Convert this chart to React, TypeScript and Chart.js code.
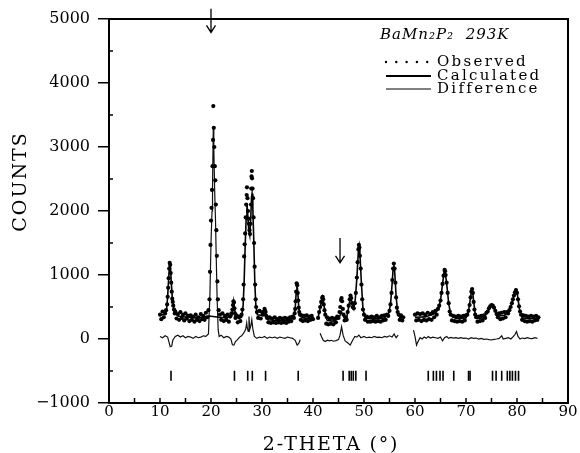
import React, { useEffect, useRef } from "react";
import { Chart, registerables } from "chart.js";

Chart.register(...registerables);

const FONT = "'DejaVu Serif', serif";

// x axis (2-theta, degrees) and y axis (counts) tick ranges
const xRange = [0, 90];
const yRange = [-1000, 5000];
const xStep = 10;
const yStep = 1000;

const xTitle = "2-THETA (°)";
const yTitle = "COUNTS";
const legendTitle = "BaMn₂P₂  293K";
const legendLabels = ["Observed", "Calculated", "Difference"];

// Observed counts [2θ, counts]
const observed: [number, number][] = [
  [10.0, 380], [10.25, 310], [10.5, 430], [10.75, 340], [11.0, 400], [11.2, 450],
  [11.4, 540], [11.5, 660], [11.6, 800], [11.7, 950], [11.8, 1100], [11.9, 1190], [12.0, 1160], [12.1, 1030],
  [12.2, 880], [12.3, 740], [12.4, 630], [12.5, 580], [12.6, 520], [12.75, 460], [12.9, 400],
  [13.0, 430], [13.25, 320], [13.5, 390], [13.75, 300], [14.0, 420], [14.25, 330], [14.5, 380], [14.75, 290],
  [15.0, 400], [15.25, 320], [15.5, 360], [15.75, 280], [16.0, 370], [16.25, 300], [16.5, 350], [16.75, 270],
  [17.0, 380], [17.25, 300], [17.5, 340], [17.75, 280], [18.0, 390], [18.25, 310], [18.5, 360], [18.75, 300],
  [19.0, 410], [19.25, 340], [19.5, 450],
  [19.7, 620], [19.8, 1050], [19.9, 1470], [20.0, 1850], [20.1, 2050], [20.2, 2330], [20.3, 2700], [20.4, 3110],
  [20.45, 3640], [20.55, 3300], [20.65, 3000], [20.75, 2700], [20.85, 2480], [20.95, 2100], [21.05, 1700],
  [21.15, 1300], [21.25, 900], [21.35, 620], [21.5, 450],
  [21.75, 380], [22.0, 300], [22.25, 400], [22.5, 280], [22.75, 360], [23.0, 300], [23.25, 380], [23.5, 270],
  [23.75, 350], [24.0, 400],
  [24.2, 460], [24.3, 530], [24.4, 590], [24.5, 570], [24.6, 480], [24.7, 400], [24.8, 330],
  [25.0, 370], [25.25, 260], [25.5, 350], [25.75, 280], [26.0, 380], [26.15, 460],
  [26.3, 620], [26.4, 850], [26.5, 1290], [26.6, 1480], [26.7, 1650], [26.8, 1900], [26.9, 2100], [27.0, 2250],
  [27.05, 2370], [27.15, 2200], [27.25, 2000], [27.35, 1880], [27.45, 1800], [27.55, 1700], [27.65, 1640],
  [27.75, 1800], [27.85, 2100], [27.9, 2350], [27.95, 2540], [28.0, 2625], [28.05, 2510], [28.15, 2350],
  [28.25, 2200], [28.35, 1900], [28.45, 1500], [28.55, 1130], [28.65, 850], [28.75, 620], [28.85, 500], [29.0, 420],
  [29.25, 330], [29.5, 440], [29.75, 320], [30.0, 420], [30.2, 380],
  [30.4, 430], [30.5, 470], [30.6, 440], [30.7, 420], [30.85, 360],
  [31.0, 330], [31.25, 260], [31.5, 340], [31.75, 250], [32.0, 320], [32.25, 260], [32.5, 340], [32.75, 250],
  [33.0, 310], [33.25, 260], [33.5, 330], [33.75, 250], [34.0, 320], [34.25, 260], [34.5, 330], [34.75, 250],
  [35.0, 320], [35.25, 270], [35.5, 340], [35.75, 280], [36.0, 350], [36.25, 330],
  [36.4, 400], [36.5, 470], [36.6, 590], [36.7, 740], [36.8, 870], [36.9, 840], [37.0, 720], [37.1, 600],
  [37.2, 490], [37.3, 420], [37.45, 380],
  [37.6, 300], [37.75, 370], [38.0, 280], [38.25, 360], [38.5, 290], [38.75, 370], [39.0, 280], [39.25, 350],
  [39.5, 300], [39.75, 360], [40.0, 310],
  [41.0, 330], [41.2, 420], [41.4, 500], [41.6, 580], [41.8, 640], [41.9, 660], [42.0, 620], [42.1, 540],
  [42.25, 450], [42.4, 380],
  [42.6, 240], [42.75, 340], [43.0, 230], [43.25, 320], [43.5, 240], [43.75, 330], [44.0, 230], [44.25, 320],
  [44.5, 260], [44.75, 350], [45.0, 330], [45.2, 420],
  [45.35, 500], [45.5, 610], [45.6, 640], [45.7, 590], [45.85, 470], [46.0, 380],
  [46.2, 290], [46.4, 340], [46.6, 300], [46.8, 420],
  [47.0, 520], [47.2, 620], [47.35, 680], [47.5, 640], [47.65, 560], [47.8, 500], [48.0, 480], [48.2, 560],
  [48.4, 720], [48.6, 960], [48.75, 1200], [48.9, 1400], [49.0, 1470], [49.1, 1430], [49.2, 1300], [49.35, 1100],
  [49.5, 850], [49.65, 620], [49.8, 460], [50.0, 380], [50.2, 300],
  [50.5, 350], [50.75, 270], [51.0, 340], [51.25, 270], [51.5, 350], [51.75, 280], [52.0, 340], [52.25, 270],
  [52.5, 360], [52.75, 280], [53.0, 340], [53.25, 270], [53.5, 360], [53.75, 290], [54.0, 370], [54.25, 300],
  [54.5, 380], [54.75, 360], [55.0, 440], [55.2, 540],
  [55.4, 720], [55.55, 920], [55.7, 1100], [55.85, 1180], [56.0, 1100], [56.15, 880], [56.3, 650], [56.45, 490],
  [56.6, 420], [56.8, 380], [57.0, 300], [57.25, 370], [57.5, 290], [57.7, 340],
  [60.0, 380], [60.25, 290], [60.5, 400], [60.75, 300], [61.0, 390], [61.25, 280], [61.5, 400], [61.75, 300],
  [62.0, 380], [62.25, 290], [62.5, 410], [62.75, 310], [63.0, 390], [63.25, 300], [63.5, 420], [63.75, 340],
  [64.0, 440], [64.25, 380], [64.5, 470], [64.75, 520], [65.0, 600], [65.2, 720],
  [65.4, 860], [65.6, 990], [65.8, 1080], [65.9, 1060], [66.0, 1000], [66.2, 880], [66.4, 720], [66.6, 560],
  [66.8, 430], [67.0, 380],
  [67.25, 290], [67.5, 360], [67.75, 280], [68.0, 350], [68.25, 270], [68.5, 360], [68.75, 280], [69.0, 350],
  [69.25, 270], [69.5, 360], [69.75, 290], [70.0, 370], [70.25, 380], [70.5, 440],
  [70.7, 530], [70.9, 650], [71.05, 740], [71.2, 780], [71.35, 720], [71.5, 580], [71.65, 460], [71.8, 380],
  [72.0, 340],
  [72.25, 270], [72.5, 350], [72.75, 280], [73.0, 360], [73.25, 290], [73.5, 370], [73.75, 330], [74.0, 410],
  [74.25, 430], [74.5, 480],
  [74.75, 510], [75.0, 530], [75.25, 520], [75.5, 490], [75.75, 440], [76.0, 390], [76.25, 340],
  [76.5, 400], [76.75, 310], [77.0, 410], [77.25, 320], [77.5, 420], [77.75, 340], [78.0, 420], [78.25, 400],
  [78.5, 450], [78.75, 500],
  [79.0, 560], [79.2, 620], [79.4, 680], [79.6, 730], [79.8, 765], [80.0, 720], [80.2, 620], [80.4, 510],
  [80.6, 430], [80.8, 380],
  [81.0, 300], [81.25, 370], [81.5, 280], [81.75, 360], [82.0, 270], [82.25, 350], [82.5, 280], [82.75, 360],
  [83.0, 270], [83.25, 350], [83.5, 290], [83.75, 360], [84.0, 300], [84.2, 340],
];

// Calculated profile [2θ, counts]; null marks excluded regions
const calculated: [number, number | null][] = [
  [10.0, 370], [11.0, 390], [11.3, 470], [11.5, 660], [11.7, 950], [11.85, 1140], [11.95, 1180], [12.05, 1140],
  [12.2, 900], [12.4, 650], [12.6, 520], [12.9, 420], [13.5, 360], [15.0, 345], [17.0, 330], [19.0, 345],
  [19.6, 360], [21.6, 340], [23.0, 330], [24.1, 360], [24.3, 470], [24.45, 580], [24.6, 490], [24.8, 350],
  [25.5, 320], [26.0, 340], [26.3, 520], [26.5, 900], [26.7, 1450], [26.9, 1900], [27.05, 2120], [27.2, 1950],
  [27.4, 1700], [27.6, 1620], [27.8, 1900], [27.95, 2220], [28.05, 2270], [28.2, 2050], [28.4, 1500],
  [28.6, 850], [28.8, 520], [29.1, 380], [30.0, 370], [30.4, 420], [30.6, 440], [30.8, 380], [31.2, 300],
  [33.0, 290], [35.0, 295], [36.2, 330], [36.5, 460], [36.7, 720], [36.85, 860], [37.0, 750], [37.2, 500],
  [37.5, 360], [38.0, 330], [39.0, 325], [40.0, 330], [40.4, null],
  [41.0, 340], [41.4, 480], [41.7, 600], [41.9, 650], [42.1, 560], [42.4, 390], [42.8, 290], [44.0, 280],
  [45.0, 320], [45.6, 420], [46.1, 340], [46.6, 330], [47.0, 500], [47.35, 660], [47.7, 560], [48.0, 480],
  [48.3, 630], [48.6, 950], [48.9, 1380], [49.05, 1450], [49.2, 1320], [49.5, 860], [49.8, 470], [50.2, 330],
  [52.0, 310], [54.0, 330], [54.8, 390], [55.2, 540], [55.5, 850], [55.7, 1080], [55.85, 1160], [56.0, 1080],
  [56.3, 660], [56.6, 420], [57.0, 340], [57.7, 330], [58.8, null],
  [60.0, 340], [62.0, 345], [64.0, 400], [64.6, 480], [65.0, 600], [65.4, 860], [65.7, 1040], [65.85, 1070],
  [66.0, 1000], [66.3, 800], [66.6, 560], [67.0, 380], [68.0, 320], [70.0, 330], [70.5, 440], [70.8, 600],
  [71.1, 760], [71.25, 770], [71.5, 590], [71.8, 390], [72.2, 320], [73.5, 330], [74.2, 420], [74.7, 500],
  [75.1, 530], [75.5, 490], [76.0, 390], [76.5, 360], [77.5, 370], [78.3, 420], [78.8, 500], [79.3, 650],
  [79.75, 760], [80.1, 680], [80.5, 460], [81.0, 330], [82.0, 320], [84.2, 320],
];

// Difference curve [2θ, counts]
const difference: [number, number | null][] = [
  [10.0, 40], [10.5, 20], [11.0, 50], [11.5, 30], [11.8, -60], [12.0, -120], [12.3, -110], [12.5, -20],
  [13.0, 40], [13.5, 60], [14.0, 30], [14.5, 50], [15.0, 20], [15.5, 40], [16.0, 30], [16.5, 10], [17.0, 40],
  [17.5, 20], [18.0, 30], [18.5, 50], [19.0, 40], [19.5, 80], [19.8, 730], [20.0, 1500], [20.2, 2000],
  [20.3, 2400], [20.45, 3320], [20.55, 3000], [20.7, 2380], [20.9, 1800], [21.0, 1380], [21.2, 630],
  [21.4, 150], [21.6, 40], [22.0, 60], [22.5, 20], [23.0, 40], [23.5, 30], [23.9, 0], [24.2, -90], [24.5, -95],
  [24.8, -40], [25.2, -10], [25.6, 30], [26.0, 50], [26.4, 90], [26.8, 150], [27.0, 250], [27.1, 180],
  [27.3, 120], [27.45, 350], [27.6, 150], [27.8, 200], [28.0, 300], [28.2, 160], [28.5, 40], [29.0, 10],
  [29.5, 30], [30.0, 20], [30.5, 40], [31.0, 10], [31.5, 30], [32.0, 20], [32.5, 30], [33.0, 10], [33.5, 30],
  [34.0, 20], [34.5, 10], [35.0, 30], [35.5, 20], [36.0, 10], [36.5, -20], [36.9, -95], [37.2, -70],
  [37.5, -10], [37.8, null],
  [41.4, 90], [41.7, 30], [42.0, -20], [42.4, -40], [42.8, -20], [43.2, -30], [43.6, -20], [44.0, -35],
  [44.5, -25], [45.0, -10], [45.3, 60], [45.6, 190], [45.9, 60], [46.3, -30], [46.8, -60], [47.3, -95],
  [47.7, -30], [48.2, 40], [48.6, 30], [49.0, 60], [49.4, 20], [50.0, 40], [50.5, 20], [51.0, 30], [51.5, 20],
  [52.0, 40], [52.5, 25], [53.0, 30], [53.5, 20], [54.0, 40], [54.5, 30], [55.0, 50], [55.5, 30], [55.9, 80],
  [56.3, 20], [56.7, 60], [58.2, null],
  [59.7, 140], [60.0, 40], [60.3, -95], [60.6, -40], [61.0, 20], [61.4, 0], [61.8, 30], [62.2, 10],
  [62.6, 40], [63.0, 15], [63.5, 30], [64.0, 20], [64.5, 10], [65.0, 30], [65.4, -30], [65.8, 20], [66.2, 40],
  [66.6, 10], [67.0, 25], [67.5, 15], [68.0, 20], [68.5, 10], [69.0, 20], [69.5, 10], [70.0, 15], [70.5, 0],
  [71.0, 20], [71.5, 10], [72.0, 15], [72.5, 0], [73.0, 10], [73.5, -5], [74.0, 0], [74.5, -10], [75.0, -15],
  [75.5, -5], [76.0, 0], [76.5, 10], [77.0, 50], [77.3, 0], [77.8, 10], [78.3, 20], [78.8, 0], [79.3, 40],
  [79.6, 70], [79.9, 115], [80.2, 40], [80.6, 0], [81.0, 15], [81.5, 5], [82.0, 20], [82.5, 10], [83.0, 5],
  [83.5, 20], [84.0, 10],
];

// Bragg reflection positions (2θ) and the level they are marked at
const braggPositions: number[] = [
  12.16, 24.6, 27.2, 28.1, 30.7, 37.1, 45.9, 47.1, 47.5, 47.9, 48.4, 50.4,
  62.6, 63.6, 64.2, 64.9, 65.5, 67.6, 70.5, 70.8, 75.2, 75.9, 77.0, 78.1, 78.6, 79.1, 79.7, 80.3,
];
const braggLevel = -575;

// Arrows marking extra peaks: 2θ, counts at tail, counts at tip
const arrowMarks = [
  { x: 20.0, from: 5160, to: 4790 },
  { x: 45.3, from: 1580, to: 1190 },
];

const decorPlugin = {
  id: "decor",
  afterDraw(chart: any) {
    const { ctx, chartArea: a, scales } = chart;
    const xs = scales.x;
    const ys = scales.y;
    ctx.save();
    ctx.strokeStyle = "#000";
    ctx.fillStyle = "#000";

    // frame
    ctx.lineWidth = 2;
    ctx.strokeRect(a.left, a.top, a.right - a.left, a.bottom - a.top);

    // inward ticks on x axis every 5 degrees
    ctx.lineWidth = 1.5;
    for (let v = xRange[0] + 5; v < xRange[1]; v += 5) {
      const px = xs.getPixelForValue(v);
      ctx.beginPath();
      ctx.moveTo(px, a.bottom);
      ctx.lineTo(px, a.bottom - 5);
      ctx.stroke();
    }
    // inward minor ticks on y axis
    for (let v = yRange[0] + yStep / 2; v < yRange[1]; v += yStep) {
      const py = ys.getPixelForValue(v);
      ctx.beginPath();
      ctx.moveTo(a.left, py);
      ctx.lineTo(a.left + 4, py);
      ctx.stroke();
    }

    // arrows
    ctx.lineWidth = 1.3;
    for (const m of arrowMarks) {
      const px = xs.getPixelForValue(m.x);
      const y0 = ys.getPixelForValue(m.from);
      const y1 = ys.getPixelForValue(m.to);
      ctx.beginPath();
      ctx.moveTo(px, y0);
      ctx.lineTo(px, y1);
      ctx.moveTo(px - 4.5, y1 - 7);
      ctx.lineTo(px, y1);
      ctx.lineTo(px + 4.5, y1 - 7);
      ctx.stroke();
    }

    // axis titles
    ctx.textAlign = "center";
    ctx.textBaseline = "middle";
    ctx.font = `19px ${FONT}`;
    (ctx as any).letterSpacing = "1.8px";
    ctx.fillText(xTitle, 331, 445);
    ctx.save();
    ctx.translate(21.5, 181.5);
    ctx.rotate(-Math.PI / 2);
    (ctx as any).letterSpacing = "2px";
    ctx.fillText(yTitle, 0, 0);
    ctx.restore();

    // legend
    ctx.textAlign = "left";
    ctx.font = `italic 15px ${FONT}`;
    (ctx as any).letterSpacing = "1px";
    ctx.fillText(legendTitle, 380, 35);

    ctx.font = `15px ${FONT}`;
    (ctx as any).letterSpacing = "2.3px";
    const rows = [62, 76, 89];
    const sx0 = 386;
    const sx1 = 431;
    for (let i = 0; i < 5; i++) {
      ctx.beginPath();
      ctx.arc(sx0 + i * 10.3, rows[0], 1.2, 0, Math.PI * 2);
      ctx.fill();
    }
    ctx.lineWidth = 2;
    ctx.beginPath();
    ctx.moveTo(sx0, rows[1]);
    ctx.lineTo(sx1, rows[1]);
    ctx.stroke();
    ctx.lineWidth = 1;
    ctx.beginPath();
    ctx.moveTo(sx0, rows[2]);
    ctx.lineTo(sx1, rows[2]);
    ctx.stroke();
    legendLabels.forEach((t, i) => ctx.fillText(t, 437, rows[i]));

    (ctx as any).letterSpacing = "0px";
    ctx.restore();
  },
};

export default function App() {
  const ref = useRef<HTMLCanvasElement>(null);

  useEffect(() => {
    if (!ref.current) return;
    const chart = new Chart(ref.current, {
      type: "scatter",
      data: {
        datasets: [
          {
            label: "Observed",
            data: observed.map(([x, y]) => ({ x, y })),
            showLine: false,
            pointRadius: 2.1,
            pointBackgroundColor: "#000",
            pointBorderWidth: 0,
            pointHoverRadius: 2.1,
          },
          {
            label: "Calculated",
            data: calculated.map(([x, y]) => ({ x, y })),
            showLine: true,
            spanGaps: false,
            borderColor: "#000",
            borderWidth: 1.6,
            pointRadius: 0,
            tension: 0,
          },
          {
            label: "Difference",
            data: difference.map(([x, y]) => ({ x, y })),
            showLine: true,
            spanGaps: false,
            borderColor: "#111",
            borderWidth: 1.2,
            pointRadius: 0,
            tension: 0,
          },
          {
            label: "Bragg",
            data: braggPositions.map((x) => ({ x, y: braggLevel })),
            showLine: false,
            pointStyle: "line",
            rotation: 90,
            pointRadius: 5,
            borderColor: "#000",
            borderWidth: 1.6,
          } as any,
        ],
      },
      options: {
        animation: false,
        responsive: false,
        events: [],
        layout: { padding: { top: 19, right: 12, left: 0, bottom: 0 } },
        plugins: { legend: { display: false }, tooltip: { enabled: false } },
        scales: {
          x: {
            type: "linear",
            min: xRange[0],
            max: xRange[1],
            afterFit: (s: any) => {
              s.height = 50;
            },
            ticks: {
              stepSize: xStep,
              autoSkip: false,
              maxRotation: 0,
              padding: 0,
              color: "#000",
              font: { family: FONT, size: 15 },
            },
            grid: { drawOnChartArea: false, drawTicks: false },
            border: { display: false },
          },
          y: {
            type: "linear",
            min: yRange[0],
            max: yRange[1],
            afterFit: (s: any) => {
              s.width = 109;
            },
            ticks: {
              stepSize: yStep,
              padding: 8,
              color: "#000",
              font: { family: FONT, size: 16 },
              callback: (v: any) => String(v).replace("-", "−"),
            },
            grid: {
              drawOnChartArea: false,
              drawTicks: true,
              tickLength: 11,
              color: "#000",
              lineWidth: 1.5,
            },
            border: { display: false },
          },
        },
      },
      plugins: [decorPlugin],
    });
    return () => chart.destroy();
  }, []);

  return (
    <div style={{ position: "fixed", left: 0, top: 0, width: 580, height: 453, background: "#fff" }}>
      <canvas ref={ref} width={580} height={453} style={{ display: "block" }} />
    </div>
  );
}
